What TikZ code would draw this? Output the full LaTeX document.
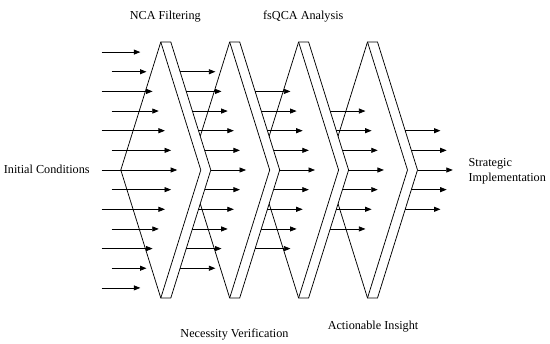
\documentclass[tikz,border=0pt]{standalone}
\usepackage{fontspec}
\setmainfont{Liberation Serif}
\usetikzlibrary{arrows.meta}
\begin{document}
\begin{tikzpicture}[x=1pt,y=-1pt,
  line width=0.75pt,
  chev/.style={draw=black,fill=white,line join=miter},
  flow/.style={draw=black,-{Triangle[length=6.5pt,width=5pt]}},
  lbl/.style={inner sep=0pt,anchor=base,font=\fontsize{12.2}{15}\selectfont}]
\useasboundingbox (0,0) rectangle (550,344);
% chevrons, rightmost first so the left ones cover it
\foreach \i in {4,3,2,1}{
  \pgfmathsetmacro{\T}{160.8+68.9*(\i-1)}
  \path[chev] (\T-40,170) -- (\T,42) -- (\T+10,42) -- (\T+50,170) -- (\T+10,298) -- (\T,298) -- cycle;
  \draw (\T,42) -- (\T+40,170) -- (\T,298);
}
% first column of arrows
\foreach \k in {-6,...,6}{
  \pgfmathsetmacro{\y}{170+19.65*\k}
  \pgfmathsetmacro{\xs}{isodd(abs(\k)) ? 111.7 : 101.7}
  \pgfmathsetmacro{\xe}{160.8+16.4-6.14*abs(\k)}
  \coordinate (s1\k) at (\xs,\y);
  \coordinate (e1\k) at (\xe,\y);
  \draw[flow] (s1\k) -- (e1\k);
}
% later columns
\foreach \i/\n in {2/5,3/4,4/3,5/2}{
  \foreach \k in {-\n,...,\n}{
    \pgfmathsetmacro{\y}{170+19.65*\k}
    \pgfmathsetmacro{\xs}{160.8+68.9*(\i-2)+50-6.14*abs(\k)}
    \pgfmathsetmacro{\xe}{160.8+68.9*(\i-1)+16.4-6.14*abs(\k)}
    \coordinate (s\i\k) at (\xs,\y);
    \coordinate (e\i\k) at (\xe,\y);
    \draw[flow] (s\i\k) -- (e\i\k);
  }
}
% labels
\node[lbl] (nca) at (165.3,20) {NCA Filtering};
\node[lbl] (fsqca) at (303.3,20) {fsQCA Analysis};
\node[lbl] (nec) at (234.5,337.3) {Necessity Verification};
\node[lbl] (act) at (373,329.3) {Actionable Insight};
\node[lbl,anchor=base west] (init) at (3.5,174) {Initial Conditions};
\node[lbl,anchor=base west] (strat) at (468.3,166.7) {Strategic};
\node[lbl,anchor=base west] (impl) at (468.3,181.7) {Implementation};
\end{tikzpicture}
\end{document}
